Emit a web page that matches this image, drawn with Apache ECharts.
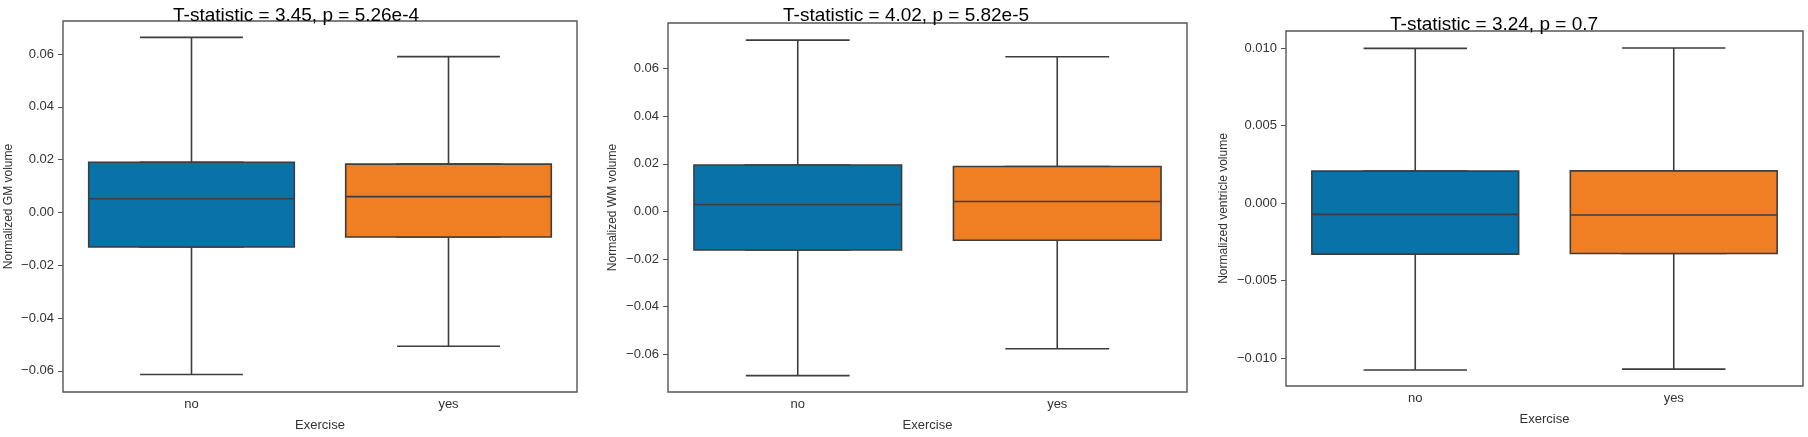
<!DOCTYPE html>
<html>
<head>
<meta charset="utf-8">
<script src="https://cdn.jsdelivr.net/npm/echarts@6/dist/echarts.min.js"></script>
<style>
html,body{margin:0;padding:0;background:#fff;}
#chart{width:1808px;height:437px;}
</style>
</head>
<body>
<div id="chart"></div>
<script>
// ---- data ----
const categories = ['no', 'yes'];
const titles = [
  'T-statistic = 3.45, p = 5.26e-4',
  'T-statistic = 4.02, p = 5.82e-5',
  'T-statistic = 3.24, p = 0.7'
];
const yNames = ['Normalized GM volume', 'Normalized WM volume', 'Normalized ventricle volume'];
const xName = 'Exercise';
// [lower whisker, Q1, median, Q3, upper whisker]
const gmNo  = [-0.0614, -0.0131, 0.0052, 0.0190, 0.0663];
const gmYes = [-0.0507, -0.0093, 0.0060, 0.0183, 0.0590];
const wmNo  = [-0.0690, -0.0162, 0.0029, 0.0195, 0.0720];
const wmYes = [-0.0577, -0.0121, 0.0042, 0.0189, 0.0650];
const vNo   = [-0.01077, -0.00329, -0.00073, 0.00206, 0.00998];
const vYes  = [-0.01071, -0.00325, -0.00077, 0.00208, 0.01000];
const ticksGM = [-0.06, -0.04, -0.02, 0.00, 0.02, 0.04, 0.06];
const ticksWM = [-0.06, -0.04, -0.02, 0.00, 0.02, 0.04, 0.06];
const ticksV  = [-0.010, -0.005, 0.000, 0.005, 0.010];

// ---- layout / style ----
const FONT = "'Liberation Sans', 'DejaVu Sans', sans-serif";
const colors = ['#0872a9', '#ef7f22'];
const lineColor = '#3d3d3d';
const frameColor = '#555555';
const panels = [
  {data:[gmNo, gmYes], ticks: ticksGM, dec: 2, min: -0.068, max: 0.0725,
   grid:{left:63, top:21, width:514, height:376}, title:{left:168, top:1}, nameGap:48},
  {data:[wmNo, wmYes], ticks: ticksWM, dec: 2, min: -0.0759, max: 0.0792,
   grid:{left:668, top:23, width:519, height:380}, title:{left:778, top:1}, nameGap:49},
  {data:[vNo, vYes], ticks: ticksV, dec: 3, min: -0.0118, max: 0.0111,
   grid:{left:1286, top:31, width:517, height:355}, title:{left:1385, top:10}, nameGap:56}
];

const fmt = (dec) => (v) => {
  const s = Math.abs(v).toFixed(dec);
  return (v < -1e-12 ? '\u2212' : '') + s;
};

const option = {
  animation: false,
  backgroundColor: '#fff',
  title: [], grid: [], xAxis: [], yAxis: [], series: []
};

panels.forEach((p, i) => {
  option.title.push({
    text: titles[i], left: p.title.left, top: p.title.top,
    textStyle: {fontFamily: FONT, fontSize: 19, fontWeight: 'normal', color: '#000'}
  });
  option.grid.push(Object.assign({show: true, borderColor: frameColor, borderWidth: 1.4,
    backgroundColor: '#fff', containLabel: false}, p.grid));
  // visible x axis
  option.xAxis.push({
    type: 'category', gridIndex: i, data: categories,
    name: xName, nameLocation: 'middle', nameGap: 27,
    nameTextStyle: {fontFamily: FONT, fontSize: 13, color: '#333'},
    axisLine: {show: false},
    axisTick: {show: true, alignWithLabel: true, length: 4, lineStyle: {color: frameColor}},
    axisLabel: {fontFamily: FONT, fontSize: 13, color: '#333', margin: 6},
    splitLine: {show: false}
  });
  // hidden x axis for whiskers
  option.xAxis.push({
    type: 'category', gridIndex: i, data: categories, show: false
  });
  option.yAxis.push({
    type: 'value', gridIndex: i, min: p.min, max: p.max,
    name: yNames[i], nameLocation: 'middle', nameGap: p.nameGap,
    nameTextStyle: {fontFamily: FONT, fontSize: 12, color: '#333'},
    axisLine: {show: false},
    axisTick: {show: true, length: 5, lineStyle: {color: frameColor}, customValues: p.ticks},
    axisLabel: {fontFamily: FONT, fontSize: 13, color: '#333', margin: 9,
      customValues: p.ticks, formatter: fmt(p.dec)},
    splitLine: {show: false}
  });
  // whiskers + caps (cap width = half box width)
  option.series.push({
    type: 'boxplot', xAxisIndex: 2 * i + 1, yAxisIndex: i,
    boxWidth: ['40%', '40%'], z: 2,
    itemStyle: {borderColor: lineColor, borderWidth: 1.6},
    data: p.data.map((d, k) => ({value: d, itemStyle: {color: colors[k]}}))
  });
  // boxes with median
  option.series.push({
    type: 'boxplot', xAxisIndex: 2 * i, yAxisIndex: i,
    boxWidth: ['80%', '80%'], z: 3,
    itemStyle: {borderColor: lineColor, borderWidth: 1.6},
    data: p.data.map((d, k) => ({value: [d[1], d[1], d[2], d[3], d[3]], itemStyle: {color: colors[k]}}))
  });
});

const chart = echarts.init(document.getElementById('chart'), null, {renderer: 'canvas'});
chart.setOption(option);
</script>
</body>
</html>
